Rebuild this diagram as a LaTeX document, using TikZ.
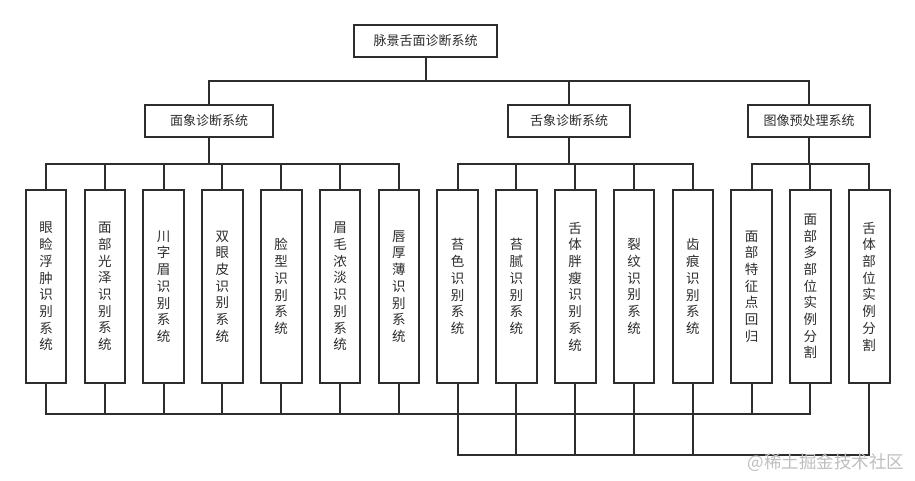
\documentclass[tikz,border=0pt]{standalone}
\usepackage{fontspec}
\newfontfamily\cjk{Noto Sans CJK SC}
\usepackage{tikz}
\usetikzlibrary{positioning}
\definecolor{inkgray}{RGB}{45,45,45}
\definecolor{markgray}{RGB}{190,190,190}
\tikzset{
  sysbox/.style={draw=inkgray, line width=2pt, fill=white,
    minimum width=122pt, minimum height=32pt, inner sep=0pt,
    align=center, text=inkgray, font=\cjk\fontsize{13}{15}\selectfont},
  leafbox/.style={draw=inkgray, line width=2pt, fill=white,
    minimum width=40.6pt, minimum height=193pt, inner sep=0pt,
    align=center, text=inkgray, font=\cjk\fontsize{13.5}{16.7}\selectfont},
  wire/.style={draw=inkgray, line width=2pt},
}

\begin{document}
\begin{tikzpicture}[x=1pt, y=-1pt, node distance=16.2pt,
  watermark/.style={text=markgray, font=\cjk\fontsize{17.5}{19}\selectfont}
]
  \useasboundingbox (0,0) rectangle (915,481);

  % Top two levels
  \node[sysbox, minimum width=143pt] (root) at (425.5,41) {脉景舌面诊断系统};
  \node[sysbox, minimum width=128pt] (face) at (209,121) {面象诊断系统};
  \node[sysbox] (tongue) at (569,121) {舌象诊断系统};
  \node[sysbox] (prep) at (809,121) {图像预处理系统};

  % Leaves, left to right
  \node[leafbox] (eye) at (46,286.5) {眼\\睑\\浮\\肿\\识\\别\\系\\统};
  \node[leafbox, right=of eye] (gloss) {面\\部\\光\\泽\\识\\别\\系\\统};
  \node[leafbox, right=of gloss] (brow) {川\\字\\眉\\识\\别\\系\\统};
  \node[leafbox, right=of brow] (lid) {双\\眼\\皮\\识\\别\\系\\统};
  \node[leafbox, right=of lid] (shape) {脸\\型\\识\\别\\系\\统};
  \node[leafbox, right=of shape] (hair) {眉\\毛\\浓\\淡\\识\\别\\系\\统};
  \node[leafbox, right=of hair] (lip) {唇\\厚\\薄\\识\\别\\系\\统};
  \node[leafbox, right=of lip] (coat) {苔\\色\\识\\别\\系\\统};
  \node[leafbox, right=of coat] (moss) {苔\\腻\\识\\别\\系\\统};
  \node[leafbox, right=of moss] (fat) {舌\\体\\胖\\瘦\\识\\别\\系\\统};
  \node[leafbox, right=of fat] (crack) {裂\\纹\\识\\别\\系\\统};
  \node[leafbox, right=of crack] (tooth) {齿\\痕\\识\\别\\系\\统};
  \node[leafbox, right=of tooth] (land) {面\\部\\特\\征\\点\\回\\归};
  \node[leafbox, right=of land] (multi) {面\\部\\多\\部\\位\\实\\例\\分\\割};
  \node[leafbox, right=of multi] (seg) {舌\\体\\部\\位\\实\\例\\分\\割};

  % Root to the three systems
  \draw[wire] (face.north) -- ++(0,-23) coordinate (rbus) -| (prep.north);
  \draw[wire] (root.south) -- (root.south |- rbus);
  \draw[wire] (tongue.north) -- (tongue.north |- rbus);

  % Systems to their leaves
  \draw[wire] (eye.north) -- ++(0,-25) coordinate (fbus) -| (lip.north);
  \draw[wire] (face.south) -- (face.south |- fbus)
    (gloss.north) -- (gloss.north |- fbus)
    (brow.north) -- (brow.north |- fbus)
    (lid.north) -- (lid.north |- fbus)
    (shape.north) -- (shape.north |- fbus)
    (hair.north) -- (hair.north |- fbus);
  \draw[wire] (coat.north) -- ++(0,-25) -| (tooth.north);
  \draw[wire] (tongue.south) -- (tongue.south |- fbus)
    (moss.north) -- (moss.north |- fbus)
    (fat.north) -- (fat.north |- fbus)
    (crack.north) -- (crack.north |- fbus);
  \draw[wire] (land.north) -- ++(0,-25) -| (seg.north);
  \draw[wire] (prep.south) -- (prep.south |- fbus)
    (multi.north) -- (multi.north |- fbus);

  % Bottom buses
  \draw[wire] (eye.south) -- ++(0,30) coordinate (lbus) -| (multi.south);
  \draw[wire] (gloss.south) -- (gloss.south |- lbus)
    (brow.south) -- (brow.south |- lbus)
    (lid.south) -- (lid.south |- lbus)
    (shape.south) -- (shape.south |- lbus)
    (hair.south) -- (hair.south |- lbus)
    (lip.south) -- (lip.south |- lbus)
    (land.south) -- (land.south |- lbus);
  \draw[wire] (coat.south) -- ++(0,71) coordinate (tbus) -| (seg.south);
  \draw[wire] (moss.south) -- (moss.south |- tbus)
    (fat.south) -- (fat.south |- tbus)
    (crack.south) -- (crack.south |- tbus)
    (tooth.south) -- (tooth.south |- tbus);

  \node[watermark, anchor=east] (wm) at (908,463) {@稀土掘金技术社区};
\end{tikzpicture}
\end{document}
